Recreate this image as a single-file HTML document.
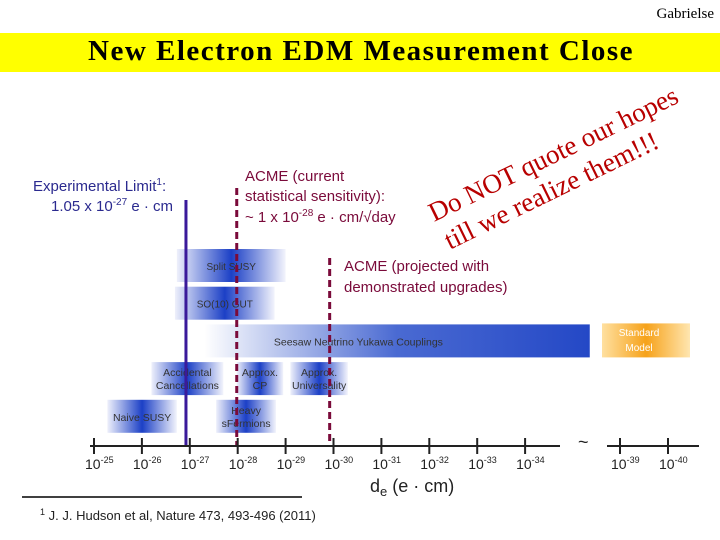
<!DOCTYPE html>
<html><head><meta charset="utf-8"><style>
body{margin:0;width:720px;height:540px;background:#fff;position:relative;overflow:hidden;font-family:"Liberation Sans",sans-serif}
.abs{position:absolute}
</style></head><body>
<div class="abs" style="right:6px;top:6px;font:15px 'Liberation Serif',serif">Gabrielse</div>
<div class="abs" style="left:0;top:33px;width:720px;height:39px;background:#ffff00"></div>
<div class="abs" style="left:88px;top:35px;font:bold 29px 'Liberation Serif',serif;color:#000;letter-spacing:1.5px;white-space:nowrap">New Electron EDM Measurement Close</div>
<svg class="abs" style="left:0;top:0" width="720" height="540" id="chart">
<defs>
<linearGradient id="bg" x1="0" x2="1"><stop offset="0" stop-color="#eef0fb"/><stop offset="0.5" stop-color="#1c40c6"/><stop offset="1" stop-color="#f3f4fc"/></linearGradient>
<linearGradient id="bg2" x1="0" x2="1"><stop offset="0" stop-color="#ffffff"/><stop offset="0.5" stop-color="#4a6ad2"/><stop offset="1" stop-color="#2448c6"/></linearGradient>
<linearGradient id="og" x1="0" x2="1"><stop offset="0" stop-color="#ffe0a0"/><stop offset="0.5" stop-color="#f6a21a"/><stop offset="1" stop-color="#ffe6b0"/></linearGradient>
</defs>
<g id="bars"></g><g id="axis"></g>
<text x="33" y="191" font-size="15" fill="#2b2a8f">Experimental Limit<tspan font-size="10" dy="-6">1</tspan><tspan dy="6">:</tspan></text>
<text x="51" y="211" font-size="15" fill="#2b2a8f">1.05 x 10<tspan font-size="10" dy="-6">-27</tspan><tspan dy="6"> e · cm</tspan></text>
<g fill="#7a0a3a" font-size="15">
<text x="245" y="181">ACME (current</text>
<text x="245" y="201">statistical sensitivity):</text>
<text x="245" y="222">~ 1 x 10<tspan font-size="10" dy="-6">-28</tspan><tspan dy="6"> e · cm/√day</tspan></text>
<text x="344" y="271">ACME (projected with</text>
<text x="344" y="292">demonstrated upgrades)</text>
</g>
<g transform="translate(434,222) rotate(-26)" fill="#b80000" font-family="Liberation Serif,serif" font-size="27">
<text x="0" y="0">Do NOT quote our hopes</text>
<text x="2" y="32">till we realize them!!!</text>
</g>
<text x="370" y="492" font-size="18" fill="#222">d<tspan font-size="13" dy="4">e</tspan><tspan dy="-4"> (e · cm)</tspan></text>
<line x1="22" x2="302" y1="497" y2="497" stroke="#000" stroke-width="1.5"/>
<text x="40" y="520" font-size="13" fill="#222"><tspan font-size="9" dy="-5">1</tspan><tspan dy="5"> J. J. Hudson et al, Nature 473, 493-496 (2011)</tspan></text>
</svg>
<script>
const tickExps=[25,26,27,28,29,30,31,32,33,34];
const farExps=[39,40];
const barNames=["Split SUSY","SO(10) GUT","Seesaw Neutrino Yukawa Couplings","Accidental|Cancellations","Approx.|CP","Approx.|Universality","Naive SUSY","Heavy|sFermions"];
const barStart=[26.73,26.69,27.3,26.2,27.98,29.1,25.28,27.55];
const barEnd=[29.0,28.77,35.35,27.7,28.95,30.3,26.73,28.8];
const barRow=[0,1,2,3,3,3,4,4];
const expLimit=26.92, acmeCurrent=27.98, acmeProjected=29.92;
const x=e=>94+(e-25)*47.9;
const xFar=e=>620+(e-39)*48;
const rowY=r=>249+r*37.7;
const ns="http://www.w3.org/2000/svg";
const svg=document.getElementById('chart'),bars=document.getElementById('bars'),ax=document.getElementById('axis');
function mk(tag,at,p){const el=document.createElementNS(ns,tag);for(const k in at)el.setAttribute(k,at[k]);p.appendChild(el);return el;}
barNames.forEach((n,i)=>{
 const g=mk('g',{},bars);
 
 
 const x0=x(barStart[i]),x1=x(barEnd[i]),y=rowY(barRow[i]);
 mk('rect',{x:x0,y:y,width:x1-x0,height:33,fill:i==2?'url(#bg2)':'url(#bg)'},g);
 const lines=n.split('|');
 const cx=i==2?x0+(x1-x0)*0.4:(x0+x1)/2;
 lines.forEach((l,j)=>{const t=mk('text',{x:cx,y:y+(lines.length==1?21:14+j*13),'text-anchor':'middle','font-size':lines.length==1&&i<2?10:10.5,fill:'#333'},g);t.textContent=l;});
});
const sm=mk('g',{},bars);


mk('rect',{x:602,y:rowY(2)-1,width:88,height:34,fill:'url(#og)'},sm);
[['Standard',336],['Model',351]].forEach(a=>{const t=mk('text',{x:639,y:a[1],'text-anchor':'middle','font-size':10,fill:'#fff'},sm);t.textContent=a[0];});
const lim=mk('line',{x1:x(expLimit),x2:x(expLimit),y1:200,y2:446,stroke:'#3a1a9a','stroke-width':3},ax);


[[acmeCurrent,188],[acmeProjected,258]].forEach(a=>{const l=mk('line',{x1:x(a[0]),x2:x(a[0]),y1:a[1],y2:446,stroke:'#7a0a3a','stroke-width':3,'stroke-dasharray':'7 4'},ax);

});
mk('line',{x1:90,x2:560,y1:446,y2:446,stroke:'#222','stroke-width':2},ax);
mk('line',{x1:607,x2:699,y1:446,y2:446,stroke:'#222','stroke-width':2},ax);
const br=mk('text',{x:578,y:448,'font-size':18,fill:'#222'},ax);br.textContent='~';
function tick(px,e){mk('line',{x1:px,x2:px,y1:438,y2:454,stroke:'#222','stroke-width':2},ax);
 const t=mk('text',{x:px-9,y:469,'font-size':14,fill:'#222'},ax);
 
 
 t.innerHTML='10<tspan font-size="9" dy="-6">-'+e+'</tspan>';}
tickExps.forEach(e=>tick(x(e),e));
farExps.forEach(e=>tick(xFar(e),e));
</script>
</body></html>
